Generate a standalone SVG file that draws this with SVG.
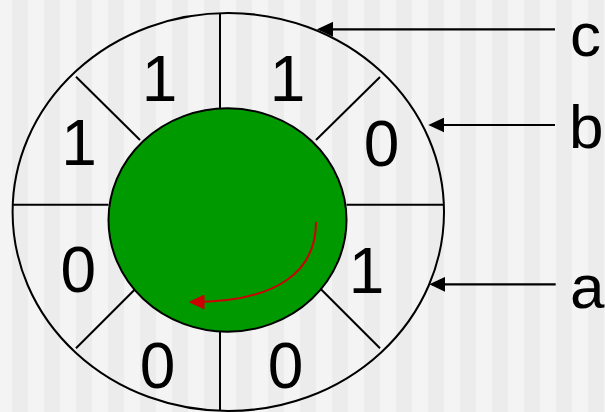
<svg xmlns="http://www.w3.org/2000/svg" width="605" height="412" viewBox="0 0 605 412">
<defs>
<pattern id="stripes" x="0" y="0" width="32" height="412" patternUnits="userSpaceOnUse">
<rect x="0" y="0" width="32" height="412" fill="#f4f4f4"/>
<rect x="12" y="0" width="16" height="412" fill="#ececec"/>
</pattern>
<marker id="ah" viewBox="0 0 16 15" markerWidth="16" markerHeight="15" refX="13" refY="7.5" orient="auto" markerUnits="userSpaceOnUse">
<path d="M0,0 L16,7.5 L0,15 z" fill="#000"/>
</marker>
<marker id="ahr" viewBox="0 0 16 15" markerWidth="16" markerHeight="15" refX="13" refY="7.5" orient="auto" markerUnits="userSpaceOnUse">
<path d="M0,0 L16,7.5 L0,15 z" fill="#cc0000"/>
</marker>
</defs>
<style>
.ln{stroke:#000;stroke-width:2;fill:none}
.dg{font-family:"Liberation Sans",Arial,sans-serif;font-size:64px;fill:#000;text-anchor:middle}
.lb{font-family:"Liberation Sans",Arial,sans-serif;font-size:62px;fill:#000}
.ar{stroke:#000;stroke-width:2.2;fill:none;marker-end:url(#ah)}
</style>
<rect x="0" y="0" width="605" height="412" fill="url(#stripes)"/>
<g id="ring">
<ellipse cx="228.3" cy="212" rx="215.7" ry="199" class="ln"/>
<line x1="220" y1="13" x2="220" y2="109" class="ln"/>
<line x1="220" y1="332" x2="220" y2="411" class="ln"/>
<line x1="12.6" y1="204.7" x2="108.5" y2="204.7" class="ln"/>
<line x1="346.5" y1="204.7" x2="444" y2="204.7" class="ln"/>
<line x1="76" y1="76.7" x2="140" y2="140" class="ln"/>
<line x1="380" y1="77" x2="316" y2="140" class="ln"/>
<line x1="316.7" y1="285" x2="380" y2="348.3" class="ln"/>
<line x1="139.3" y1="285" x2="76" y2="348.3" class="ln"/>
</g>
<g id="hub">
<ellipse cx="227.5" cy="220" rx="119" ry="111.7" fill="#009900" stroke="#000" stroke-width="2"/>
</g>
<g id="bits">
<text class="dg" x="159.5" y="101">1</text>
<text class="dg" x="287.5" y="101">1</text>
<text class="dg" x="79" y="165">1</text>
<text class="dg" x="381.5" y="166">0</text>
<text class="dg" x="78.3" y="292">0</text>
<text class="dg" x="366.5" y="293">1</text>
<text class="dg" x="157.5" y="388">0</text>
<text class="dg" x="285.5" y="388">0</text>
</g>
<g id="label-c"><text class="lb" x="570" y="56">c</text></g>
<g id="label-b"><text class="lb" x="569" y="148">b</text></g>
<g id="label-a"><text class="lb" x="570" y="308">a</text></g>
<g id="connectors">
<line x1="555" y1="29.3" x2="320" y2="29.3" class="ar"/>
<line x1="555" y1="125" x2="431.3" y2="125" class="ar"/>
<line x1="555.7" y1="284.3" x2="432.3" y2="284.3" class="ar"/>
<path d="M316,222 C316,270 280,302 191.5,302" stroke="#cc0000" stroke-width="2" fill="none" marker-end="url(#ahr)"/>
</g>
</svg>
